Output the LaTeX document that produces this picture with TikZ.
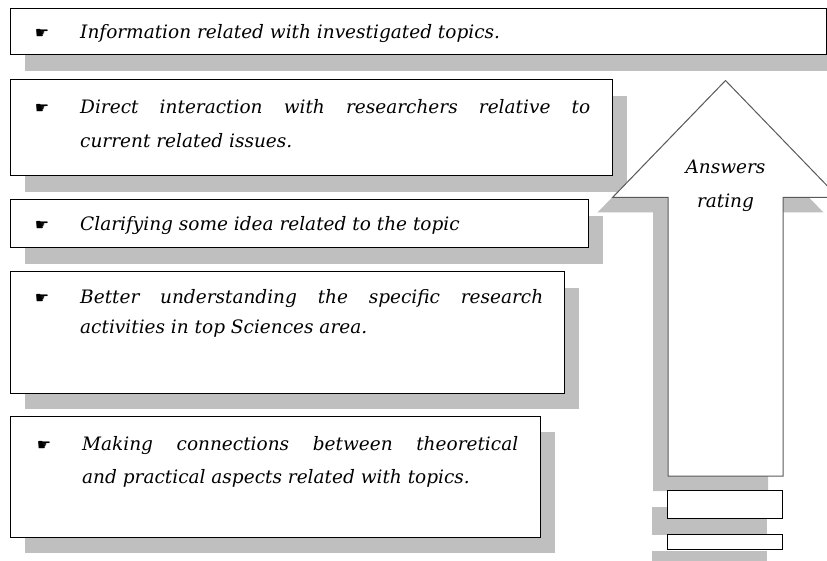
\documentclass[tikz,border=0pt]{standalone}
\usepackage{fontspec}
\setmainfont{DejaVu Serif}
\newfontfamily\symfont{DejaVu Sans}
\begin{document}
\begin{tikzpicture}[x=1pt,y=-1pt,
  shadowbox/.style={fill=black!25,draw=none},
  itembox/.style={fill=white,draw=black,line width=1pt},
  arrowline/.style={fill=white,draw=black!65,line width=1pt},
  itemtext/.style={anchor=base west,inner sep=0pt,font=\itshape\fontsize{18.5}{20}\selectfont},
  bul/.style={anchor=base,inner sep=0pt,font=\symfont\fontsize{16}{18}\selectfont},
  arrowtext/.style={anchor=base,inner sep=0pt,font=\itshape\fontsize{18.5}{20}\selectfont}]
\clip (0,0) rectangle (827,561);
% ---------- shadows of the boxes ----------
\fill[shadowbox] (25,25) rectangle (841,71);
\fill[shadowbox] (25,96) rectangle (627,192);
\fill[shadowbox] (25,216) rectangle (603,264);
\fill[shadowbox] (25,288) rectangle (579,409);
\fill[shadowbox] (25,432) rectangle (555,553);
% ---------- arrow shadow ----------
\fill[shadowbox] (710.5,95.5) -- (823.5,212.5) -- (768,212.5) -- (768,491) -- (653,491) -- (653,212.5) -- (597.5,212.5) -- cycle;
\fill[shadowbox] (652,507) rectangle (767,535);
\fill[shadowbox] (652,551) rectangle (767,566);
% ---------- arrow ----------
\filldraw[arrowline] (725.5,80.5) coordinate (tip) -- (838.5,197.5) -- (783,197.5) -- (783,476) -- (668,476) -- (668,197.5) -- (612.5,197.5) -- cycle;
\node[arrowtext] (ans) at (725.5,174) {Answers};
\node[arrowtext] (rat) at (725.5,208) {rating};
\draw[itembox] (667,490) rectangle (782,518);
\draw[itembox] (667,534) rectangle (782,549);
% ---------- boxes ----------
\draw[itembox] (10,9) rectangle (826,55);
\draw[itembox] (10,80) rectangle (612,176);
\draw[itembox] (10,200) rectangle (588,248);
\draw[itembox] (10,272) rectangle (564,393);
\draw[itembox] (10,416) rectangle (540,537);
% ---------- texts ----------
\node[bul] (b1) at (42,39) {☛};
\node[itemtext] (t1) at (80,39) {Information related with investigated topics.};
\node[bul] (b2) at (42,114) {☛};
\node[itemtext] (t2a) at (80,114) {\makebox[510pt][s]{Direct interaction with researchers relative to}};
\node[itemtext] (t2b) at (80,148) {current related issues.};
\node[bul] (b3) at (42,231) {☛};
\node[itemtext] (t3) at (80,231) {Clarifying some idea related to the topic};
\node[bul] (b4) at (42,303) {☛};
\node[itemtext] (t4a) at (80,303) {\makebox[463pt][s]{Better understanding the specific research}};
\node[itemtext] (t4b) at (80,333) {activities in top Sciences area.};
\node[bul] (b5) at (44,450) {☛};
\node[itemtext] (t5a) at (82,450) {\makebox[436pt][s]{Making connections between theoretical}};
\node[itemtext] (t5b) at (82,483) {and practical aspects related with topics.};
\end{tikzpicture}
\end{document}
